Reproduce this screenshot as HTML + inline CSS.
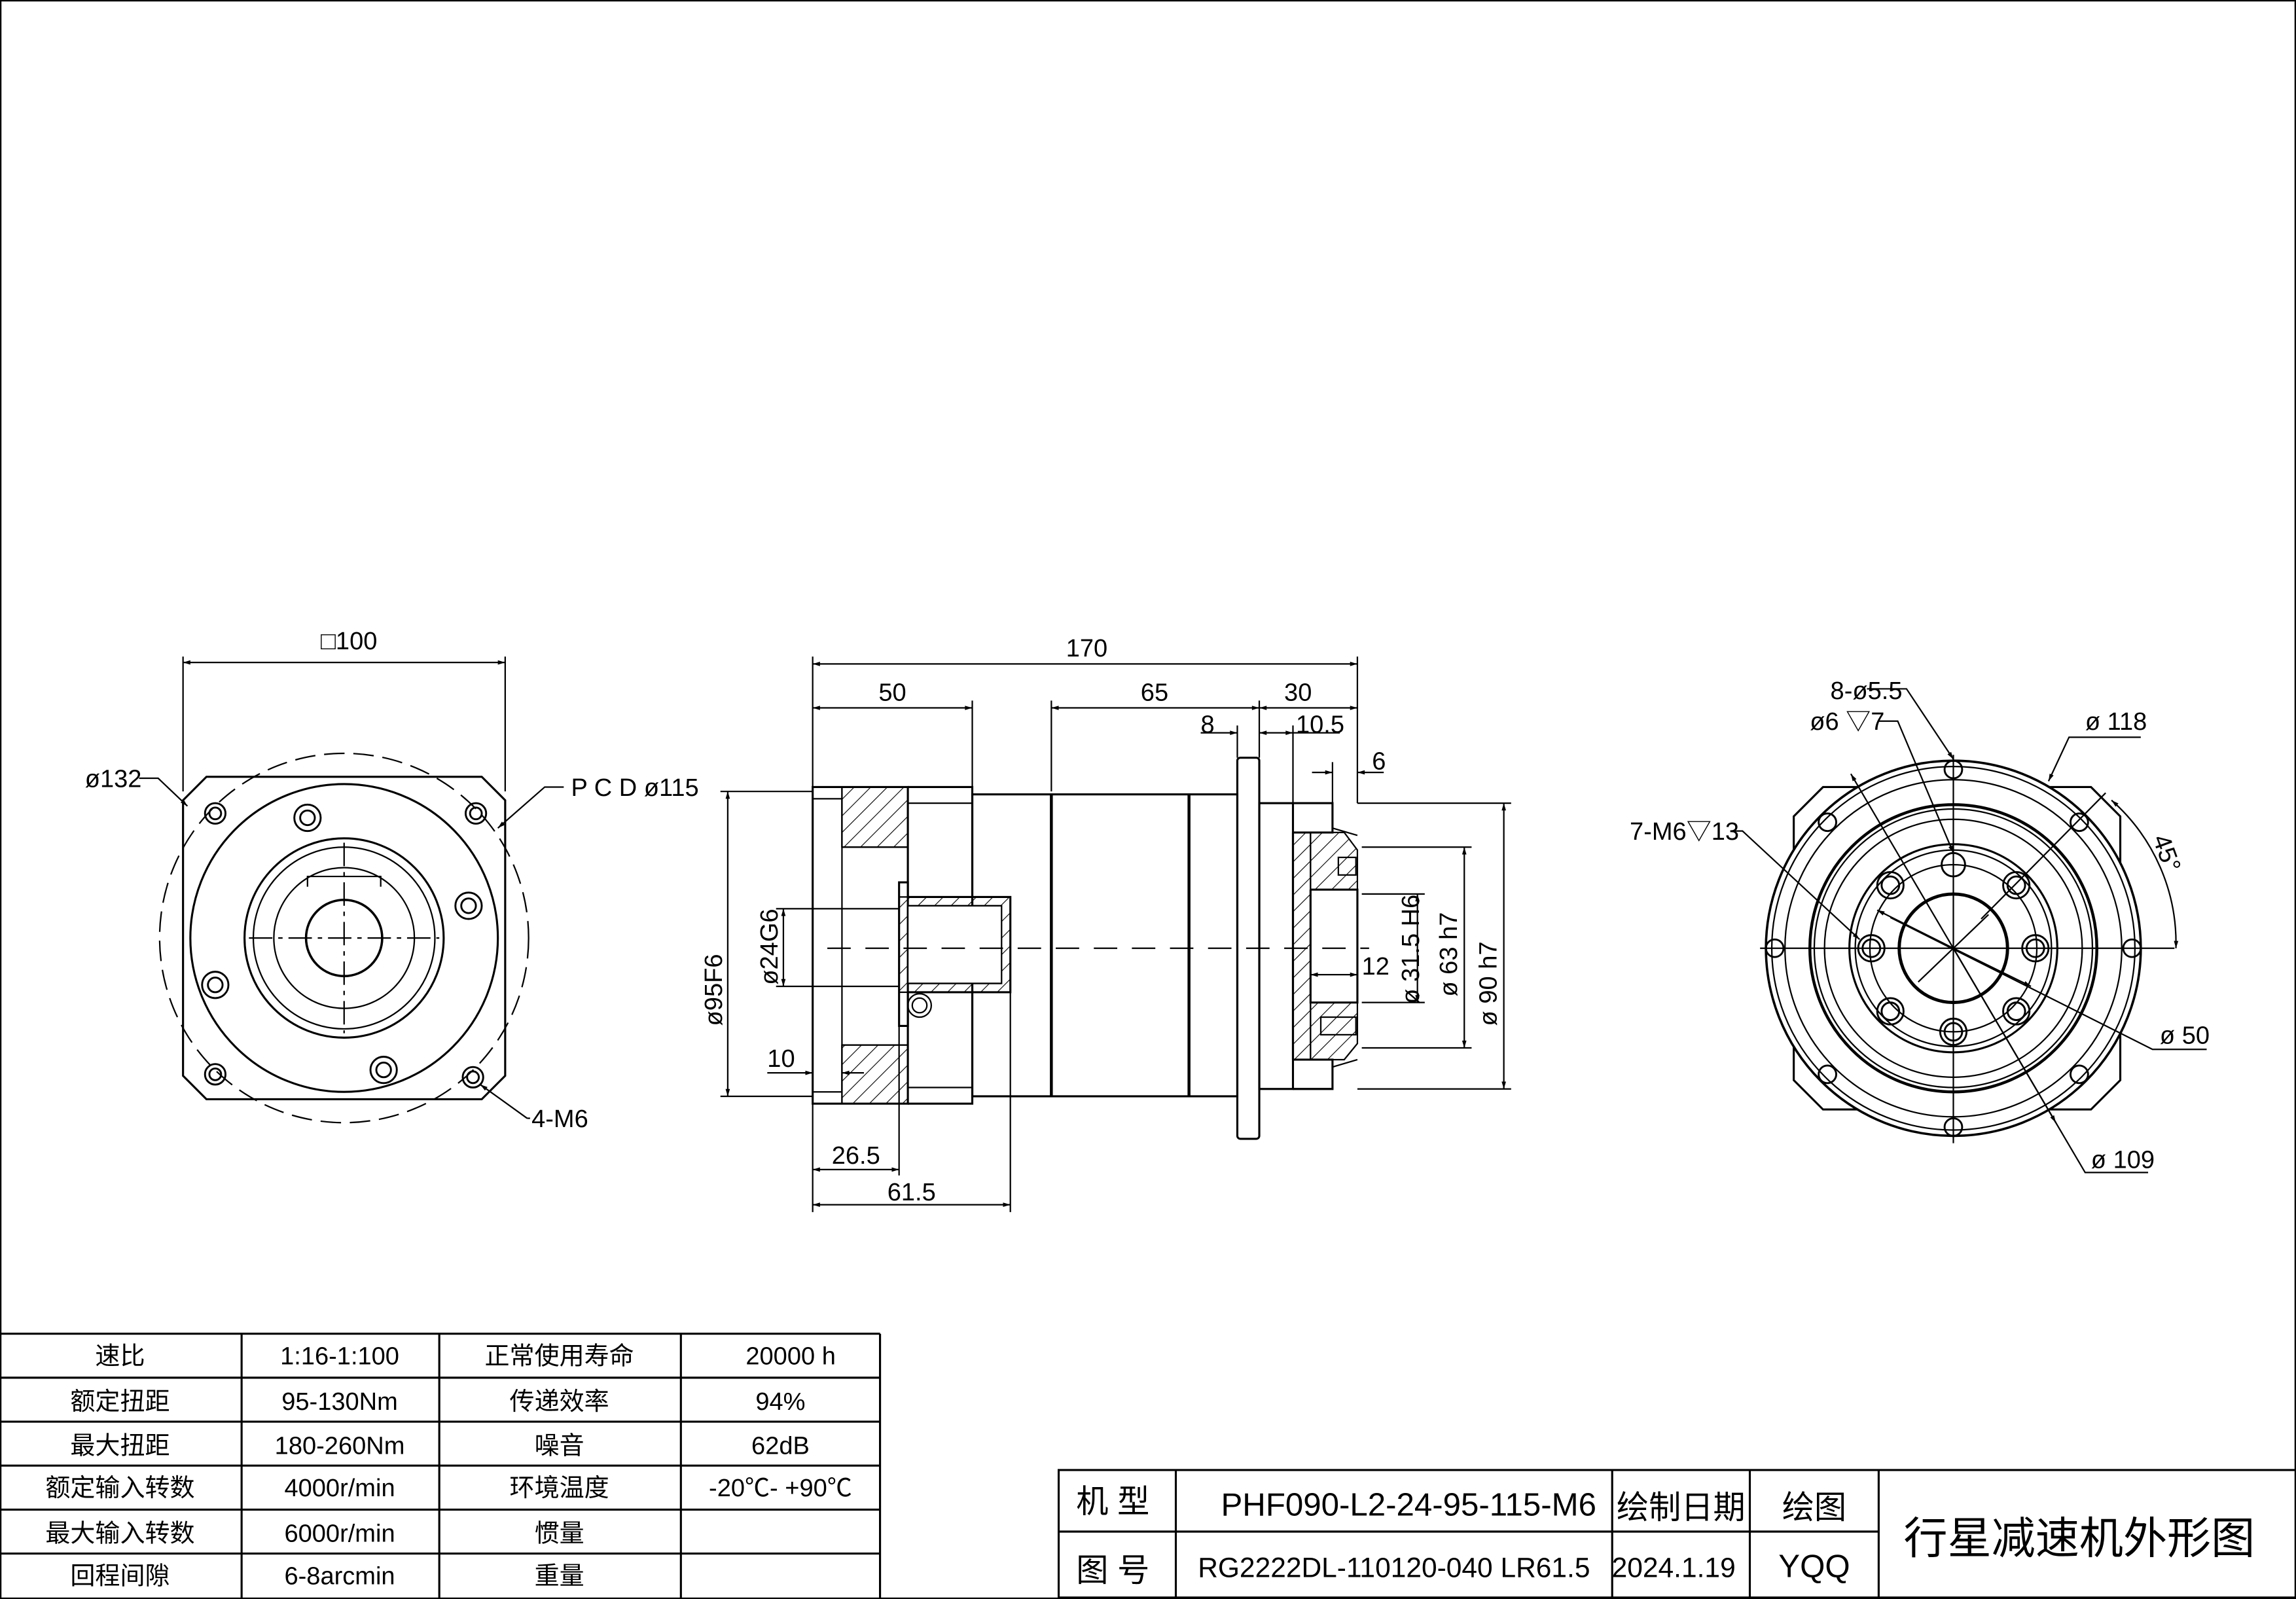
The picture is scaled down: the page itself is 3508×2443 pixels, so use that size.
<!DOCTYPE html>
<html><head><meta charset="utf-8"><style>
html,body{margin:0;padding:0;background:#fff}
svg{display:block}
text{font-family:"Liberation Sans","Noto Sans CJK SC",sans-serif;fill:#000}
</style></head><body>
<svg width="3508" height="2443" viewBox="0 0 1568 1091" preserveAspectRatio="none" xmlns="http://www.w3.org/2000/svg">
<defs>
<pattern id="h" width="8" height="8" patternUnits="userSpaceOnUse" patternTransform="rotate(45)"><line x1="0" y1="0" x2="0" y2="8" stroke="#000" stroke-width="1"/></pattern>
<marker id="a" viewBox="0 0 10 10" refX="10" refY="5" markerWidth="9" markerHeight="5" orient="auto-start-reverse" markerUnits="userSpaceOnUse"><path d="M0,2 L10,5 L0,8 z" fill="#000"/></marker>
</defs>
<rect x="0.5" y="0.5" width="1567" height="1090" fill="none" stroke="#000" stroke-width="1"/>
<g fill="none" stroke="#000" stroke-width="1">

<!-- LEFT VIEW -->
<path d="M141,530 H329 L345,546 V734 L329,750 H141 L125,734 V546 Z" stroke-width="1.4"/>
<circle cx="235" cy="640" r="105" stroke-width="1.4"/>
<circle cx="235" cy="640" r="126" stroke-dasharray="14,6"/>
<circle cx="235" cy="640" r="68" stroke-width="1.4"/>
<circle cx="235" cy="640" r="62"/>
<circle cx="235" cy="640" r="48"/>
<circle cx="235" cy="640" r="26" stroke-width="1.6"/>
<line x1="235" y1="575" x2="235" y2="705" stroke-dasharray="16,4,3,4"/>
<line x1="170" y1="640" x2="300" y2="640" stroke-dasharray="16,4,3,4"/>
<path d="M210,605 V598 H260 V605"/>
<g stroke-width="1.3">
<circle cx="147" cy="555" r="7"/><circle cx="147" cy="555" r="4"/>
<circle cx="325" cy="555" r="7"/><circle cx="325" cy="555" r="4"/>
<circle cx="147" cy="733" r="7"/><circle cx="147" cy="733" r="4"/>
<circle cx="323" cy="735" r="7"/><circle cx="323" cy="735" r="4"/>
<circle cx="210" cy="558" r="9"/><circle cx="210" cy="558" r="5"/>
<circle cx="320" cy="618" r="9"/><circle cx="320" cy="618" r="5"/>
<circle cx="262" cy="730" r="9"/><circle cx="262" cy="730" r="5"/>
<circle cx="147" cy="672" r="9"/><circle cx="147" cy="672" r="5"/>
</g>
<line x1="125" y1="448" x2="125" y2="540"/><line x1="345" y1="448" x2="345" y2="540"/>
<line x1="125" y1="452" x2="345" y2="452" marker-start="url(#a)" marker-end="url(#a)"/>
<path d="M95,531 H108 L128,550" marker-end="url(#a)"/>
<path d="M385,537 H372 L340,565" marker-end="url(#a)"/>
<path d="M360,763 L328,740" marker-end="url(#a)"/>
<line x1="360" y1="763" x2="362" y2="763"/>

<!-- MIDDLE VIEW -->
<rect x="575" y="537" width="45" height="41" fill="url(#h)"/>
<rect x="575" y="713" width="45" height="40" fill="url(#h)"/>
<path d="M555,537 H620 V753 H555 Z" stroke-width="1.4"/>
<path d="M555,545 H575 V745 H555"/>
<line x1="575" y1="578" x2="620" y2="578"/><line x1="575" y1="713" x2="620" y2="713"/>
<line x1="575" y1="537" x2="575" y2="578"/><line x1="575" y1="713" x2="575" y2="753"/>
<path d="M620,537 H664 V753 H620" stroke-width="1.4"/>
<line x1="620" y1="548" x2="664" y2="548"/><line x1="620" y1="742" x2="664" y2="742"/>
<rect x="664" y="542" width="181" height="206" stroke-width="1.4"/>
<line x1="718" y1="542" x2="718" y2="748" stroke-width="2"/>
<line x1="812" y1="542" x2="812" y2="748" stroke-width="2"/>
<rect x="845" y="517" width="15" height="260" rx="2" stroke-width="1.4"/>
<rect x="860" y="548" width="23" height="195" stroke-width="1.4"/>
<rect x="883" y="568" width="12" height="155" fill="url(#h)"/>
<path d="M895,568 H918 L927,580 V607 H895 Z" fill="url(#h)"/>
<path d="M895,684 H927 V712 L918,723 H895 Z" fill="url(#h)"/>
<path d="M883,548 H910 V568 H883 M883,723 H910 V743 H883" stroke-width="1.4"/>
<path d="M883,568 V723 M895,607 V684 H927 V607 H895" stroke-width="1.4"/>
<path d="M910,548 V565 L927,570 M910,743 V728 L927,723"/>
<rect x="914" y="585" width="12" height="12"/><rect x="902" y="694" width="24" height="12"/>
<!-- shaft -->
<rect x="614" y="612" width="76" height="65" fill="url(#h)"/>
<rect x="620" y="618" width="64" height="53" fill="#fff"/>
<path d="M614,602 H620 V612 H690 V677 H620 V700 H614 Z" stroke-width="1.4"/>
<line x1="620" y1="618" x2="684" y2="618"/><line x1="620" y1="671" x2="684" y2="671"/>
<circle cx="628" cy="686" r="8"/><circle cx="628" cy="686" r="5"/>
<line x1="565" y1="647" x2="935" y2="647" stroke-dasharray="16,10"/>
<!-- dims -->
<line x1="555" y1="448" x2="555" y2="537"/><line x1="927" y1="448" x2="927" y2="548"/>
<line x1="555" y1="453" x2="927" y2="453" marker-start="url(#a)" marker-end="url(#a)"/>
<line x1="664" y1="478" x2="664" y2="537"/><line x1="718" y1="478" x2="718" y2="540"/><line x1="860" y1="478" x2="860" y2="517"/>
<line x1="555" y1="483" x2="664" y2="483" marker-start="url(#a)" marker-end="url(#a)"/>
<line x1="718" y1="483" x2="860" y2="483" marker-start="url(#a)" marker-end="url(#a)"/>
<line x1="860" y1="483" x2="927" y2="483" marker-start="url(#a)" marker-end="url(#a)"/>
<line x1="845" y1="495" x2="845" y2="517"/><line x1="883" y1="495" x2="883" y2="548"/>
<line x1="820" y1="500" x2="845" y2="500" marker-end="url(#a)"/>
<line x1="860" y1="500" x2="883" y2="500" marker-start="url(#a)" marker-end="url(#a)"/>
<line x1="883" y1="500" x2="915" y2="500"/>
<line x1="910" y1="520" x2="910" y2="548"/>
<line x1="896" y1="527" x2="910" y2="527" marker-end="url(#a)"/>
<line x1="945" y1="527" x2="927" y2="527" marker-end="url(#a)"/>
<line x1="927" y1="548" x2="1032" y2="548"/><line x1="927" y1="743" x2="1032" y2="743"/>
<line x1="1027" y1="548" x2="1027" y2="743" marker-start="url(#a)" marker-end="url(#a)"/>
<line x1="930" y1="578" x2="1005" y2="578"/><line x1="930" y1="715" x2="1005" y2="715"/>
<line x1="1000" y1="578" x2="1000" y2="715" marker-start="url(#a)" marker-end="url(#a)"/>
<line x1="930" y1="610" x2="973" y2="610"/><line x1="930" y1="684" x2="973" y2="684"/>
<line x1="968" y1="610" x2="968" y2="684" marker-start="url(#a)" marker-end="url(#a)"/>
<line x1="895" y1="665" x2="927" y2="665" marker-start="url(#a)" marker-end="url(#a)"/>
<line x1="492" y1="540" x2="555" y2="540"/><line x1="492" y1="748" x2="555" y2="748"/>
<line x1="497" y1="540" x2="497" y2="748" marker-start="url(#a)" marker-end="url(#a)"/>
<line x1="530" y1="620" x2="614" y2="620"/><line x1="530" y1="673" x2="614" y2="673"/>
<line x1="535" y1="620" x2="535" y2="673" marker-start="url(#a)" marker-end="url(#a)"/>
<line x1="524" y1="732" x2="555" y2="732" marker-end="url(#a)"/>
<line x1="590" y1="732" x2="575" y2="732" marker-end="url(#a)"/>
<line x1="555" y1="753" x2="555" y2="827"/><line x1="614" y1="700" x2="614" y2="802"/><line x1="690" y1="677" x2="690" y2="827"/>
<line x1="555" y1="798" x2="614" y2="798" marker-start="url(#a)" marker-end="url(#a)"/>
<line x1="555" y1="822" x2="690" y2="822" marker-start="url(#a)" marker-end="url(#a)"/>

<!-- RIGHT VIEW -->
<path d="M1245,537 H1428 L1448,557 V737 L1428,757 H1245 L1225,737 V557 Z" stroke-width="1.4"/>
<circle cx="1334" cy="647" r="128" stroke-width="1.6" fill="#fff"/>
<circle cx="1334" cy="647" r="124"/>
<circle cx="1334" cy="647" r="115"/>
<circle cx="1334" cy="647" r="98" stroke-width="2"/>
<circle cx="1334" cy="647" r="95"/>
<circle cx="1334" cy="647" r="88"/>
<circle cx="1334" cy="647" r="71" stroke-width="1.4"/>
<circle cx="1334" cy="647" r="67"/>
<circle cx="1334" cy="647" r="57"/>
<circle cx="1334" cy="647" r="37" stroke-width="2.2"/>
<line x1="1334" y1="515" x2="1334" y2="780"/>
<line x1="1202" y1="647" x2="1485" y2="647"/>
<g stroke-width="1.3">
<circle cx="1334" cy="525" r="6"/><circle cx="1334" cy="769" r="6"/><circle cx="1212" cy="647" r="6"/><circle cx="1456" cy="647" r="6"/>
<circle cx="1248" cy="561" r="6"/><circle cx="1420" cy="561" r="6"/><circle cx="1248" cy="733" r="6"/><circle cx="1420" cy="733" r="6"/>
<circle cx="1334" cy="590" r="8"/>
<circle cx="1291" cy="604" r="9"/><circle cx="1291" cy="604" r="6"/>
<circle cx="1377" cy="604" r="9"/><circle cx="1377" cy="604" r="6"/>
<circle cx="1278" cy="647" r="9"/><circle cx="1278" cy="647" r="6"/>
<circle cx="1390" cy="647" r="9"/><circle cx="1390" cy="647" r="6"/>
<circle cx="1291" cy="690" r="9"/><circle cx="1291" cy="690" r="6"/>
<circle cx="1377" cy="690" r="9"/><circle cx="1377" cy="690" r="6"/>
<circle cx="1334" cy="704" r="9"/><circle cx="1334" cy="704" r="6"/>
</g>
<line x1="1310" y1="670" x2="1358" y2="624"/>
<line x1="1353" y1="627" x2="1438" y2="541"/>
<path d="M1442,546 A130,130 0 0 1 1486,647" marker-start="url(#a)" marker-end="url(#a)"/>
<path d="M1275,470 H1302 L1334,518" marker-end="url(#a)"/>
<path d="M1283,492 H1296 L1334,582" marker-end="url(#a)"/>
<path d="M1462,503 H1413 L1399,533" marker-end="url(#a)"/>
<path d="M1182,567 H1190 L1270,641" marker-end="url(#a)"/>
<path d="M1507,716 H1470 L1291,626" />
<line x1="1334" y1="647" x2="1282" y2="621" marker-end="url(#a)"/>
<line x1="1334" y1="647" x2="1387" y2="673" marker-end="url(#a)"/>
<path d="M1467,800 H1424 L1334,647"/>
<line x1="1334" y1="647" x2="1404" y2="766" marker-end="url(#a)"/>
<line x1="1334" y1="647" x2="1264" y2="528" marker-end="url(#a)"/>

<!-- TABLE -->
<g stroke-width="1.4">
<line x1="0" y1="910" x2="601" y2="910"/>
<line x1="0" y1="940" x2="601" y2="940"/><line x1="0" y1="970" x2="601" y2="970"/>
<line x1="0" y1="1000" x2="601" y2="1000"/><line x1="0" y1="1030" x2="601" y2="1030"/>
<line x1="0" y1="1060" x2="601" y2="1060"/>
<line x1="165" y1="910" x2="165" y2="1091"/><line x1="300" y1="910" x2="300" y2="1091"/>
<line x1="465" y1="910" x2="465" y2="1091"/><line x1="601" y1="910" x2="601" y2="1091"/>
<rect x="723" y="1003" width="845" height="87"/>
<line x1="723" y1="1045" x2="1283" y2="1045"/>
<line x1="803" y1="1003" x2="803" y2="1090"/><line x1="1101" y1="1003" x2="1101" y2="1090"/>
<line x1="1195" y1="1003" x2="1195" y2="1090"/><line x1="1283" y1="1003" x2="1283" y2="1090"/>
</g>
</g>

<g font-size="17">
<text x="219" y="443">□100</text>
<text x="58" y="537">ø132</text>
<text x="390" y="543">P C D ø115</text>
<text x="363" y="769">4-M6</text>
<text x="728" y="448">170</text>
<text x="600" y="478">50</text>
<text x="779" y="478">65</text>
<text x="877" y="478">30</text>
<text x="820" y="500">8</text>
<text x="885" y="500">10.5</text>
<text x="937" y="525">6</text>
<text x="930" y="665">12</text>
<text x="524" y="728">10</text>
<text x="568" y="794">26.5</text>
<text x="606" y="819">61.5</text>
<text transform="translate(493,700) rotate(-90)">ø95F6</text>
<text transform="translate(531,672) rotate(-90)">ø24G6</text>
<text transform="translate(1022,700) rotate(-90)">ø 90 h7</text>
<text transform="translate(995,680) rotate(-90)">ø 63 h7</text>
<text transform="translate(969,685) rotate(-90)">ø 31.5 H6</text>
<text x="1250" y="477">8-ø5.5</text>
<text x="1236" y="498">ø6 ▽7</text>
<text x="1424" y="498">ø 118</text>
<text x="1113" y="573">7-M6▽13</text>
<text transform="translate(1470,572) rotate(70)">45°</text>
<text x="1475" y="712">ø 50</text>
<text x="1428" y="797">ø 109</text>
</g>
<g font-size="17" text-anchor="middle">
<text x="82" y="931">速比</text><text x="232" y="931">1:16-1:100</text><text x="382" y="931">正常使用寿命</text><text x="540" y="931">20000 h</text>
<text x="82" y="962">额定扭距</text><text x="232" y="962">95-130Nm</text><text x="382" y="962">传递效率</text><text x="533" y="962">94%</text>
<text x="82" y="992">最大扭距</text><text x="232" y="992">180-260Nm</text><text x="382" y="992">噪音</text><text x="533" y="992">62dB</text>
<text x="82" y="1021">额定输入转数</text><text x="232" y="1021">4000r/min</text><text x="382" y="1021">环境温度</text><text x="533" y="1021">-20℃- +90℃</text>
<text x="82" y="1052">最大输入转数</text><text x="232" y="1052">6000r/min</text><text x="382" y="1052">惯量</text>
<text x="82" y="1081">回程间隙</text><text x="232" y="1081">6-8arcmin</text><text x="382" y="1081">重量</text>
</g>
<g font-size="22" text-anchor="middle">
<text x="760" y="1032">机 型</text><text x="962" y="1034">PHF090-L2-24-95-115-M6</text>
<text x="1148" y="1036">绘制日期</text><text x="1239" y="1036">绘图</text>
<text x="760" y="1079">图 号</text><text x="952" y="1076" font-size="19">RG2222DL-110120-040 LR61.5</text>
<text x="1143" y="1076" font-size="19">2024.1.19</text><text x="1239" y="1076">YQQ</text>
<text x="1420" y="1060" font-size="30">行星减速机外形图</text>
</g>
</svg>
</body></html>
